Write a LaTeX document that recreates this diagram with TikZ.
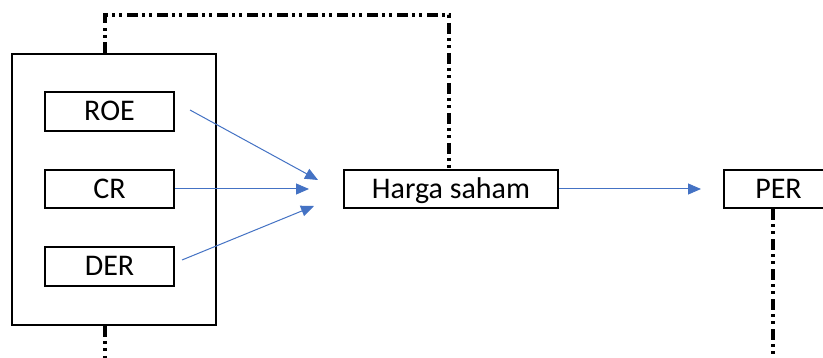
\documentclass[tikz,border=0pt]{standalone}
\usepackage{fontspec}
\setmainfont{Carlito}
\usetikzlibrary{arrows.meta}
\definecolor{arrowblue}{HTML}{4472C4}
\begin{document}
\begin{tikzpicture}[x=1pt,y=-1pt,
  box/.style={draw=black,line width=2pt,fill=white,inner sep=0pt,text height=22.5pt,text depth=3.5pt,font=\fontsize{30}{33}\selectfont},
  flow/.style={draw=arrowblue,line width=1pt,-{Triangle[length=13pt,width=11pt]}},
  dashdot/.style={draw=black,line width=3.2pt,dash pattern=on 11pt off 4pt on 3pt off 4pt on 3pt off 5pt}]
\useasboundingbox (0,0) rectangle (823,358);
\clip (0,0) rectangle (823,358);
\fill[white] (0,0) rectangle (823,358);
% outer frame
\node[draw=black,line width=2pt,minimum width=204pt,minimum height=271pt,inner sep=0pt] (frame) at (114,189.5) {};
% inner boxes
\node[box,minimum width=129pt,minimum height=39pt] (roe) at (109.5,111.5) {ROE};
\node[box,minimum width=129pt,minimum height=38.5pt] (cr) at (109.5,189) {CR};
\node[box,minimum width=129pt,minimum height=39pt] (der) at (109.5,266.5) {DER};
\node[box,minimum width=214pt,minimum height=38.5pt] (harga) at (451,189) {Harga saham};
\node[box,minimum width=109pt,minimum height=38.5pt] (per) at (778.5,189) {PER};
% arrow end points
\coordinate (t1) at (318,180);
\coordinate (t2) at (309,190);
\coordinate (t3) at (314,206);
\coordinate (s1) at (190,110);
\coordinate (s3) at (182,260);
\draw[flow] (s1) -- (t1);
\draw[flow] (cr.east) -- (cr.east -| t2);
\draw[flow] (s3) -- (t3);
\coordinate (tper) at (701,189);
\draw[flow] (harga.east) -- (harga.east -| tper);
% dash-dot connectors
\coordinate (topL) at (105,15);
\coordinate (topR) at (449,15);
\coordinate (botL) at (105,362);
\coordinate (botR) at (773,362);
\draw[dashdot] (frame.north -| topL) -- (topL) -- (topR) -- (harga.north -| topR);
\draw[dashdot] (frame.south -| botL) -- (botL);
\draw[dashdot] (per.south -| botR) -- (botR);
\end{tikzpicture}
\end{document}
